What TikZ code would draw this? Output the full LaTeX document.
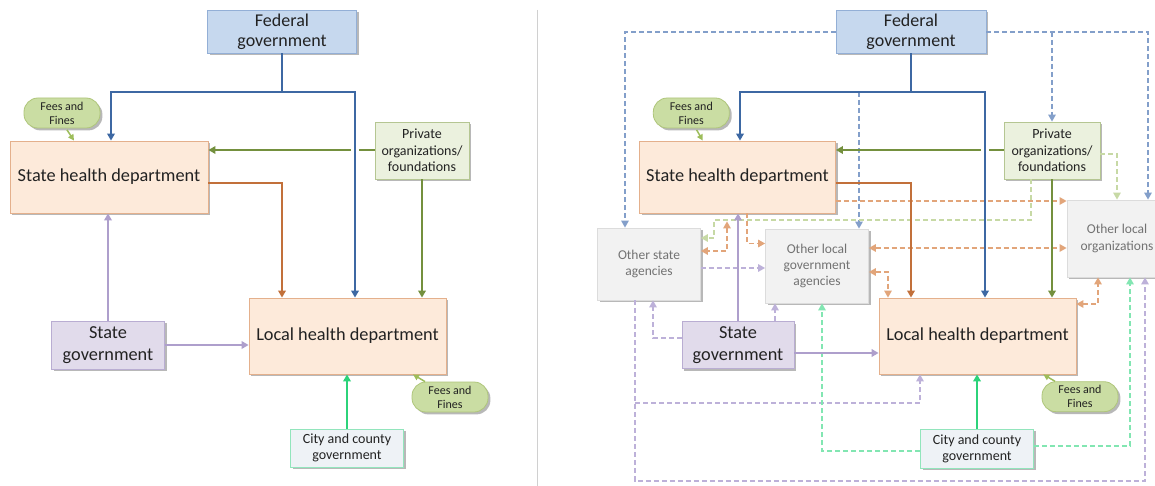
\documentclass[tikz,border=0pt]{standalone}
\usepackage{fontspec}
\setmainfont{Carlito}
\usetikzlibrary{arrows.meta,shadows,calc}
\definecolor{txt}{HTML}{222222}
\definecolor{fedfill}{HTML}{C6D8EE}
\definecolor{fedline}{HTML}{93AFD6}
\definecolor{peach}{HTML}{FDEADA}
\definecolor{peachline}{HTML}{E4B08C}
\definecolor{privfill}{HTML}{EBF1DE}
\definecolor{privline}{HTML}{B5C692}
\definecolor{sgfill}{HTML}{E1DBEB}
\definecolor{sgline}{HTML}{B9ADD2}
\definecolor{cityfill}{HTML}{EEF2F6}
\definecolor{cityline}{HTML}{92E5BC}
\definecolor{feefill}{HTML}{CADDA3}
\definecolor{feeline}{HTML}{AFC67A}
\definecolor{othfill}{HTML}{F2F2F2}
\definecolor{othline}{HTML}{DCDCDC}
\definecolor{othtxt}{HTML}{727272}
\definecolor{blueS}{HTML}{3D68A3}
\definecolor{blueD}{HTML}{839FCA}
\definecolor{greenS}{HTML}{74903E}
\definecolor{orangeS}{HTML}{C2703A}
\definecolor{orangeD}{HTML}{E2A57A}
\definecolor{purpleS}{HTML}{AE9FCC}
\definecolor{purpleD}{HTML}{BDB1D9}
\definecolor{cityS}{HTML}{2CD37A}
\definecolor{cityD}{HTML}{82E6B2}
\definecolor{lgD}{HTML}{C7D9A5}
\definecolor{feeA}{HTML}{9DBD5B}
\definecolor{sepcol}{HTML}{D0D0D0}
\tikzset{
  base/.style={rectangle, draw, line width=0.8pt, inner sep=0pt, align=center, text=txt,
    drop shadow={shadow xshift=2.4pt, shadow yshift=-2.4pt, fill=black, opacity=0.28}},
  fedbox/.style={base, fill=fedfill, draw=fedline, font=\fontsize{18}{20}\selectfont},
  hdbox/.style={base, fill=peach, draw=peachline, font=\fontsize{18.3}{21}\selectfont},
  privbox/.style={base, fill=privfill, draw=privline, font=\fontsize{14}{16.4}\selectfont},
  sgbox/.style={base, fill=sgfill, draw=sgline, font=\fontsize{18.3}{22}\selectfont},
  citybox/.style={base, fill=cityfill, draw=cityline, font=\fontsize{14}{16}\selectfont},
  feebox/.style={base, rounded corners=14pt, fill=feefill, draw=feeline, font=\fontsize{12}{14}\selectfont},
  othbox/.style={base, fill=othfill, draw=othline, text=othtxt, font=\fontsize{13.5}{16.4}\selectfont},
  arr/.style={-{Triangle[length=7pt,width=7.5pt]}},
  arrboth/.style={{Triangle[length=7pt,width=7.5pt]}-{Triangle[length=7pt,width=7.5pt]}},
  smallarr/.style={-{Triangle[length=6pt,width=6pt]}},
  solidln/.style={line width=2pt},
  dashln/.style={line width=1.4pt, dash pattern=on 5pt off 3pt},
  lnblueS/.style={solidln, draw=blueS},
  lnblueD/.style={dashln, draw=blueD},
  lngreenS/.style={solidln, draw=greenS},
  lnorangeS/.style={solidln, draw=orangeS},
  lnorangeD/.style={dashln, draw=orangeD},
  lnpurpleS/.style={solidln, draw=purpleS},
  lnpurpleD/.style={dashln, draw=purpleD},
  lncityS/.style={solidln, draw=cityS},
  lncityD/.style={dashln, draw=cityD},
  lnlgD/.style={dashln, draw=lgD},
  lnfee/.style={line width=1.5pt, draw=feeA},
}
\begin{document}
\begin{tikzpicture}[x=1pt,y=-1pt]
\useasboundingbox (0,0) rectangle (1155,486);
\fill[white] (0,0) rectangle (1155,486);

% separator
\draw[sepcol, line width=1pt] (537,10) -- (537,486);

% ================= LEFT PANEL =================
\node[fedbox, minimum width=149pt, minimum height=43pt] (fedL) at (282,31.5) {Federal\\government};
\node[feebox, minimum width=76pt, minimum height=30pt] (feeL1) at (62,113) {Fees and\\Fines};
\node[hdbox, minimum width=198pt, minimum height=72pt] (shL) at (109,177) {State health department};
\node[privbox, minimum width=94pt, minimum height=57pt] (privL) at (422,150.5) {Private\\organizations/\\foundations};
\node[sgbox, minimum width=113pt, minimum height=48pt] (sgL) at (108,345) {State\\government};
\node[hdbox, minimum width=197pt, minimum height=76pt] (lhL) at (347.5,336) {Local health department};
\node[citybox, minimum width=113pt, minimum height=38pt] (cityL) at (347,448) {City and county\\government};
\node[feebox, minimum width=76pt, minimum height=30pt] (feeL2) at (450,397) {Fees and\\Fines};

\draw[lngreenS, arr] (privL.west |- 0,150) -- (shL.east |- 0,150);
\fill[white] (351,144) rectangle (359,156);
\coordinate (bL) at (fedL.south |- 0,92);
\draw[lnblueS] (fedL.south) -- (bL);
\draw[lnblueS, arr] (bL) -| (111,0 |- shL.north);
\draw[lnblueS, arr] (bL) -| (355,0 |- lhL.north);
\draw[lngreenS, arr] (privL.south) -- (privL.south |- lhL.north);
\draw[lnorangeS, arr] (shL.east |- 0,183) -| (282,0 |- lhL.north);
\draw[lnpurpleS, arr] (sgL.north) -- (sgL.north |- shL.south);
\draw[lnpurpleS, arr] (sgL.east) -- (sgL.east -| lhL.west);
\draw[lncityS, arr] (cityL.north) -- (cityL.north |- lhL.south);
\draw[lnfee, smallarr] ($(feeL1.south)+(5,1.5)$) -- (74,0 |- shL.north);
\draw[lnfee, smallarr] ($(feeL2.north)+(-25,0)$) -- (413,0 |- lhL.south);

% ================= RIGHT PANEL =================
\node[fedbox, minimum width=150pt, minimum height=43pt] (fedR) at (911,31.5) {Federal\\government};
\node[feebox, minimum width=76pt, minimum height=30pt] (feeR1) at (691.3,113) {Fees and\\Fines};
\node[hdbox, minimum width=196pt, minimum height=72pt] (shR) at (737.5,177) {State health department};
\node[privbox, minimum width=96pt, minimum height=57pt] (privR) at (1052,150.5) {Private\\organizations/\\foundations};
\node[othbox, minimum width=100pt, minimum height=77pt] (olo) at (1117,238.5) {Other local\\organizations};
\node[othbox, minimum width=103pt, minimum height=72pt] (osa) at (649,264) {Other state\\agencies};
\node[othbox, minimum width=103pt, minimum height=74pt] (olg) at (817,266) {Other local\\government\\agencies};
\node[sgbox, minimum width=112pt, minimum height=47pt] (sgR) at (738,345.3) {State\\government};
\node[hdbox, minimum width=197pt, minimum height=76pt] (lhR) at (977.5,336) {Local health department};
\node[citybox, minimum width=113pt, minimum height=39pt] (cityR) at (977,448.5) {City and county\\government};
\node[feebox, minimum width=76pt, minimum height=30pt] (feeR2) at (1080,396.7) {Fees and\\Fines};

% dashed blue from federal
\draw[lnblueD, arr] (fedR.west |- 0,32) -| (625,0 |- osa.north);
\draw[lnblueD, arr] (fedR.east |- 0,32) -| (1148,0 |- olo.north);
\draw[lnblueD, arr] (privR.north |- 0,32) -- (privR.north);
\coordinate (bRd) at (859,92);
\draw[lnblueD, arr] (bRd) -- (bRd |- olg.north);

% light green dashed from private
\draw[lnlgD, arr] (privR.east |- 0,154) -| (1117,0 |- olo.north);
\draw[lnlgD, arr] (1031,0 |- privR.south) |- (714,220) |- (osa.east |- 0,238);

% orange dashed
\draw[lnorangeD, arr] (shR.east |- 0,201) -- (olo.west |- 0,201);
\draw[lnorangeD, arrboth] ($(727,0 |- shR.south)+(0,8)$) |- (osa.east |- 0,251);
\draw[lnorangeD, arr] (747,0 |- shR.south) |- (olg.west |- 0,243.5);
\draw[lnorangeD, arrboth] (olg.east |- 0,248) -- (olo.west |- 0,248);
\draw[lnorangeD, arrboth] (olg.east |- 0,272) -| (888,0 |- lhR.north);
\draw[lnorangeD, arrboth] (lhR.east |- 0,304) -| (1098,0 |- olo.south);

% purple dashed
\draw[lnpurpleD, arr] (osa.east |- 0,268) -- (olg.west |- 0,268);
\draw[lnpurpleD, arr] (sgR.west |- 0,338) -| (653,0 |- osa.south);
\draw[lnpurpleD, arr] (775,0 |- sgR.north) -- (775,0 |- olg.south);
\coordinate (pB) at (1145,481);
\draw[lnpurpleD, arr] (635,0 |- osa.south) |- (pB) -- (pB |- olo.south);
\coordinate (pM) at (635,403);
\draw[lnpurpleD, arr] (pM) -| (920,0 |- lhR.south);

% city dashed
\draw[lncityD, arr] (cityR.west |- 0,451) -| (822,0 |- olg.south);
\draw[lncityD, arr] (cityR.east |- 0,446) -| (1130,0 |- olo.south);

% solid connectors
\draw[lngreenS, arr] (privR.west |- 0,150) -- (shR.east |- 0,150);
\fill[white] (981,144) rectangle (989,156);
\coordinate (bR) at (fedR.south |- 0,92);
\draw[lnblueS] (fedR.south) -- (bR);
\draw[lnblueS, arr] (bR) -| (740,0 |- shR.north);
\draw[lnblueS, arr] (bR) -| (985,0 |- lhR.north);
\draw[lngreenS, arr] (privR.south) -- (privR.south |- lhR.north);
\draw[lnorangeS, arr] (shR.east |- 0,183) -| (911,0 |- lhR.north);
\draw[lnpurpleS, arr] (sgR.north) -- (sgR.north |- shR.south);
\draw[lnpurpleS, arr] (sgR.east |- 0,353) -- (lhR.west |- 0,353);
\draw[lncityS, arr] (cityR.north) -- (cityR.north |- lhR.south);
\draw[lnfee, smallarr] ($(feeR1.south)+(5.3,1.5)$) -- (702.8,0 |- shR.north);
\draw[lnfee, smallarr] ($(feeR2.north)+(-25,0)$) -- (1043.3,0 |- lhR.south);
\end{tikzpicture}
\end{document}
